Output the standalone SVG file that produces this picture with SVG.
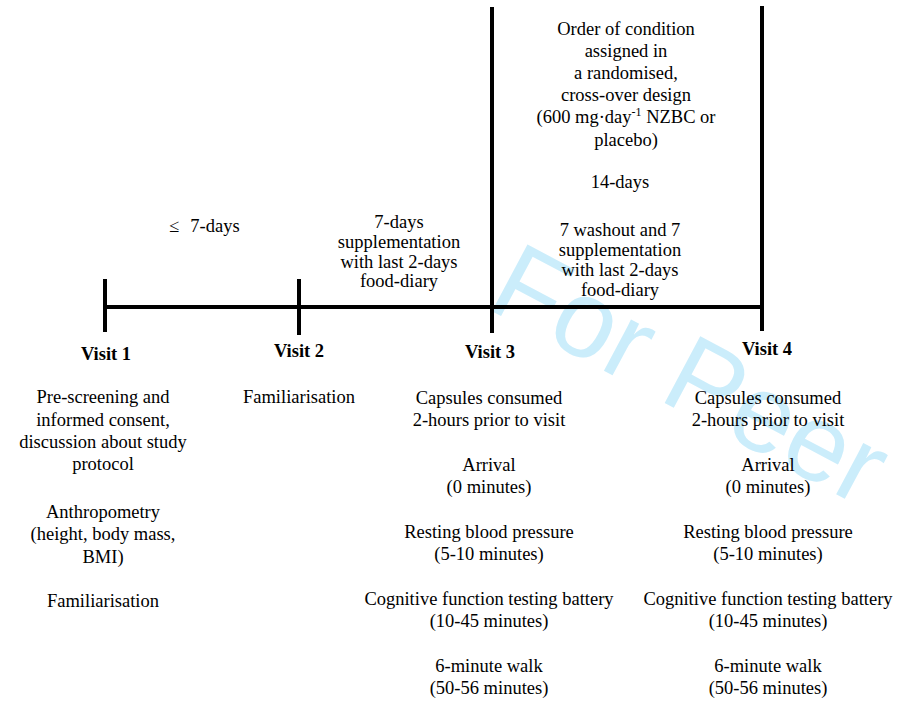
<svg xmlns="http://www.w3.org/2000/svg" width="897" height="701" viewBox="0 0 897 701">
<style>
  text { font-family: "Liberation Serif", "Times New Roman", serif; font-size: 18.5px; fill: #000; text-anchor: middle; }
  .b { font-weight: bold; }
  .wm { font-family: "Liberation Sans", Arial, sans-serif; font-size: 110px; fill: #cbedfb; text-anchor: start; }
  .ln { stroke: #000; stroke-width: 4; fill: none; }
</style>
<rect width="897" height="701" fill="#fff"/>
<text class="wm" transform="translate(484,307) rotate(28)">For Peer</text>

<g id="connectors">
  <line class="ln" x1="103" y1="307" x2="764" y2="307"/>
  <line class="ln" x1="105" y1="279" x2="105" y2="332"/>
  <line class="ln" x1="299" y1="279" x2="299" y2="335"/>
  <line class="ln" x1="492" y1="7" x2="492" y2="333"/>
  <line class="ln" x1="762" y1="6" x2="762" y2="331"/>
</g>

<g id="interval1">
  <text x="174" y="232">≤</text>
  <text x="215" y="232">7-days</text>
</g>

<g id="interval2">
  <text x="399" y="228">7-days</text>
  <text x="399" y="248">supplementation</text>
  <text x="399" y="268">with last 2-days</text>
  <text x="399" y="287">food-diary</text>
</g>

<g id="interval3">
  <text x="626" y="35">Order of condition</text>
  <text x="626" y="57">assigned in</text>
  <text x="626" y="79">a randomised,</text>
  <text x="626" y="101">cross-over design</text>
  <text x="626" y="123">(600 mg·day<tspan font-size="12" dy="-7">-1</tspan><tspan dy="7"> NZBC or</tspan></text>
  <text x="626" y="146">placebo)</text>
  <text x="620" y="188">14-days</text>
  <text x="620" y="236">7 washout and 7</text>
  <text x="620" y="256">supplementation</text>
  <text x="620" y="276">with last 2-days</text>
  <text x="620" y="296">food-diary</text>
</g>

<g id="visit1">
  <text class="b" x="106" y="360">Visit 1</text>
  <text x="103" y="403">Pre-screening and</text>
  <text x="103" y="426">informed consent,</text>
  <text x="103" y="448">discussion about study</text>
  <text x="103" y="470">protocol</text>
  <text x="103" y="518">Anthropometry</text>
  <text x="103" y="540">(height, body mass,</text>
  <text x="103" y="563">BMI)</text>
  <text x="103" y="607">Familiarisation</text>
</g>

<g id="visit2">
  <text class="b" x="299" y="357">Visit 2</text>
  <text x="299" y="403">Familiarisation</text>
</g>

<g id="visit3">
  <text class="b" x="490" y="358">Visit 3</text>
  <text x="489" y="404">Capsules consumed</text>
  <text x="489" y="426">2-hours prior to visit</text>
  <text x="489" y="471">Arrival</text>
  <text x="489" y="493">(0 minutes)</text>
  <text x="489" y="538">Resting blood pressure</text>
  <text x="489" y="560">(5-10 minutes)</text>
  <text x="489" y="605">Cognitive function testing battery</text>
  <text x="489" y="627">(10-45 minutes)</text>
  <text x="489" y="672">6-minute walk</text>
  <text x="489" y="694">(50-56 minutes)</text>
</g>

<g id="visit4">
  <text class="b" x="767" y="355">Visit 4</text>
  <text x="768" y="404">Capsules consumed</text>
  <text x="768" y="426">2-hours prior to visit</text>
  <text x="768" y="471">Arrival</text>
  <text x="768" y="493">(0 minutes)</text>
  <text x="768" y="538">Resting blood pressure</text>
  <text x="768" y="560">(5-10 minutes)</text>
  <text x="768" y="605">Cognitive function testing battery</text>
  <text x="768" y="627">(10-45 minutes)</text>
  <text x="768" y="672">6-minute walk</text>
  <text x="768" y="694">(50-56 minutes)</text>
</g>
</svg>
